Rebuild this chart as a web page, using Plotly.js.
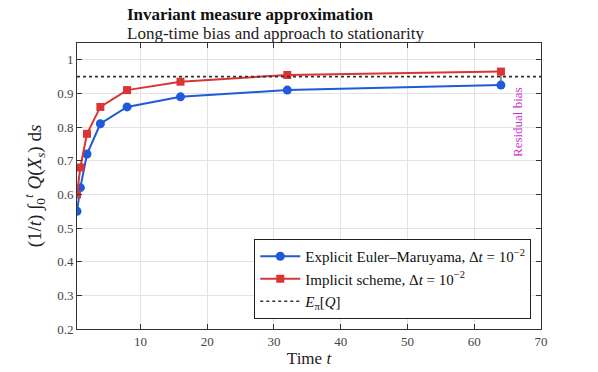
<!DOCTYPE html>
<html>
<head>
<meta charset="utf-8">
<script src="https://cdn.plot.ly/plotly-3.0.1.min.js"></script>
<style>
  html, body { margin: 0; padding: 0; background: #fff; }
  #chart { width: 598px; height: 372px; }
</style>
</head>
<body>
<div id="chart"></div>
<script>
// time points and long-time averages
const tVals = [0.5, 1, 2, 4, 8, 16, 32, 64];
const explicitEM = [0.55, 0.62, 0.72, 0.81, 0.86, 0.89, 0.91, 0.925];
const implicitScheme = [0.60, 0.68, 0.78, 0.86, 0.91, 0.935, 0.955, 0.965];
const targetMean = 0.95;
const yTicks = [0.2, 0.3, 0.4, 0.5, 0.6, 0.7, 0.8, 0.9, 1];
const yTickText = ['0.2', '0.3', '0.4', '0.5', '0.6', '0.7', '0.8', '0.9', '1'];
const xTicks = [10, 20, 30, 40, 50, 60, 70];

const FONT = 'Liberation Serif';
const last = tVals.length - 1;

const traces = [
    {
        type: 'scatter', mode: 'lines+markers',
        name: 'Explicit Euler–Maruyama, Δ<i>t</i> = 10<sup>−2</sup>',
        x: tVals, y: explicitEM,
        line: { color: '#1f5ad8', width: 2 },
        marker: { color: '#1f5ad8', size: 9, symbol: 'circle' },
    },
    {
        type: 'scatter', mode: 'lines+markers',
        name: 'Implicit scheme, Δ<i>t</i> = 10<sup>−2</sup>',
        x: tVals, y: implicitScheme,
        line: { color: '#d93535', width: 2 },
        marker: { color: '#d93535', size: 8, symbol: 'square' },
    },
    {
        type: 'scatter', mode: 'lines',
        name: '<i>E</i><sub>π</sub>[<i>Q</i>]',
        x: [0.5, 70], y: [targetMean, targetMean],
        line: { color: '#333', width: 1.6, dash: 'dot' },
    },
];

const axisCommon = {
    showline: true, linecolor: '#333', linewidth: 1,
    mirror: 'ticks', ticks: 'inside', ticklen: 5, tickcolor: '#333',
    showgrid: true, gridcolor: '#e3e3e3', zeroline: false,
    tickfont: { family: FONT, size: 13, color: '#444' },
};

const layout = {
    width: 598, height: 372,
    paper_bgcolor: '#fff', plot_bgcolor: '#fff',
    margin: { t: 43, r: 57, b: 43, l: 77 },
    font: { family: FONT, color: '#222' },
    showlegend: true,
    legend: {
        x: 0.979, xanchor: 'right', y: 0.035, yanchor: 'bottom',
        bgcolor: '#fff', bordercolor: '#222', borderwidth: 1,
        font: { family: FONT, size: 15, color: '#111' },
        tracegroupgap: 0, itemwidth: 40,
    },
    xaxis: Object.assign({}, axisCommon, {
        range: [0.5, 70], tickvals: xTicks,
        title: { text: 'Time <i>t</i>', font: { family: FONT, size: 17, color: '#222' }, standoff: 4 },
    }),
    yaxis: Object.assign({}, axisCommon, {
        range: [0.2, 1.05], tickvals: yTicks, ticktext: yTickText,
        title: {
            text: '(1/<i>t</i>) ∫<sub>0</sub><sup><i>t</i></sup> <i>Q</i>(<i>X<sub>s</sub></i>) d<i>s</i>',
            font: { family: FONT, size: 19, color: '#222' }, standoff: 10,
        },
    }),
    shapes: [
        {
            // residual bias marker between the two schemes at the final time
            type: 'line', xref: 'x', yref: 'y',
            x0: tVals[last], x1: tVals[last],
            y0: explicitEM[last], y1: implicitScheme[last],
            line: { color: '#777', width: 1.5 },
            layer: 'below',
        },
    ],
    annotations: [
        {
            xref: 'paper', yref: 'paper', x: (125 - 77) / 464, y: 1 + 40 / 286,
            xanchor: 'left', yanchor: 'top',
            text: '<b>Invariant measure approximation</b>', showarrow: false,
            font: { family: FONT, size: 17, color: '#111' },
        },
        {
            xref: 'paper', yref: 'paper', x: (125 - 77) / 464, y: 1 + 21 / 286,
            xanchor: 'left', yanchor: 'top',
            text: 'Long-time bias and approach to stationarity', showarrow: false,
            font: { family: FONT, size: 17, color: '#222' },
        },
        {
            xref: 'x', yref: 'y', x: 66.4, y: 0.815,
            text: 'Residual bias', textangle: -90, showarrow: false,
            font: { family: FONT, size: 13, color: '#cc33cc' },
        },
    ],
};

Plotly.newPlot('chart', traces, layout, { staticPlot: true, displayModeBar: false });
</script>
</body>
</html>
